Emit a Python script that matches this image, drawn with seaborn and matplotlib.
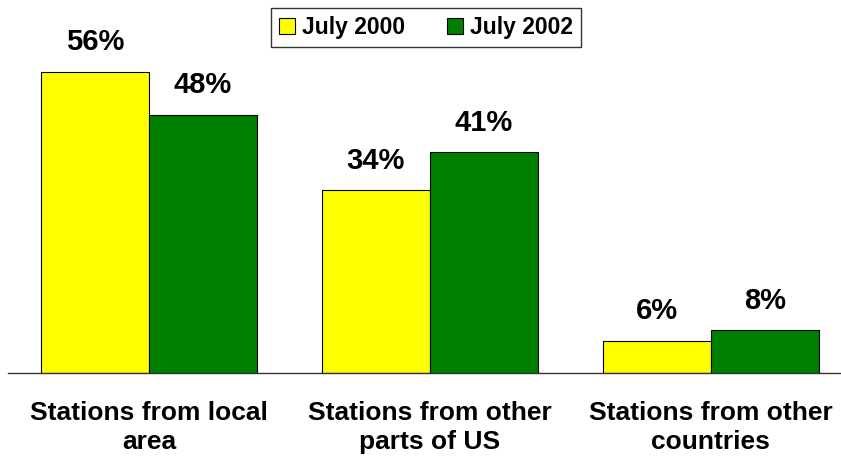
import matplotlib
matplotlib.use("Agg")
import matplotlib.pyplot as plt
import seaborn as sns
import pandas as pd

categories = ["Stations from local\narea", "Stations from other\nparts of US", "Stations from other\ncountries"]
series = ["July 2000", "July 2002"]
values_2000 = [56, 34, 6]
values_2002 = [48, 41, 8]
colors = ["#FFFF00", "#008000"]

df = pd.DataFrame({
    "category": categories * 2,
    "period": [series[0]] * 3 + [series[1]] * 3,
    "value": values_2000 + values_2002,
})

sns.set_style("white")
plt.rcParams["font.family"] = ["Liberation Sans", "DejaVu Sans"]
plt.rcParams["text.color"] = "black"
plt.rcParams["xtick.color"] = "black"

fig = plt.figure(figsize=(8.41, 4.57), dpi=100)
ax = fig.add_axes([8 / 841, 84 / 457, 833 / 841, 323 / 457])

sns.barplot(data=df, x="category", y="value", hue="period", order=categories,
            hue_order=series, palette=colors, width=0.77, saturation=1,
            edgecolor="black", linewidth=0.8, legend=False, ax=ax)

for container in ax.containers:
    ax.bar_label(container, labels=[f"{v:.0f}%" for v in container.datavalues],
                 padding=11, fontsize=21, fontweight="bold", color="black")

ax.set_xlim(-0.502, 2.463)
ax.set_ylim(0, 60)
ax.set_xlabel("")
ax.set_ylabel("")
ax.set_yticks([])
ax.tick_params(axis="x", length=0, pad=20, labelsize=19, labelcolor="black")
for lbl in ax.get_xticklabels():
    lbl.set_fontweight("bold")
    lbl.set_linespacing(1.25)
for side in ["top", "right", "left"]:
    ax.spines[side].set_visible(False)
ax.spines["bottom"].set_color("#333333")
ax.spines["bottom"].set_linewidth(1.0)

handles = [plt.Rectangle((0, 0), 1, 1, facecolor=c, edgecolor="black", linewidth=0.8) for c in colors]
leg = fig.legend(handles, series, loc="center", bbox_to_anchor=(426 / 841, 1 - 27.5 / 457),
                 ncol=2, frameon=True, fancybox=False, edgecolor="black",
                 prop={"weight": "bold", "size": 16.5}, handlelength=0.7, handleheight=0.7,
                 handletextpad=0.3, columnspacing=1.8, borderpad=0.35)
leg.get_frame().set_linewidth(1.0)

fig.savefig("out.png", dpi=100)
